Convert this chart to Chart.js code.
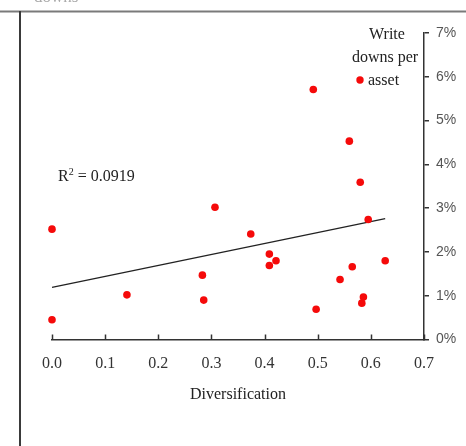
<!DOCTYPE html>
<html>
<head>
<meta charset="utf-8">
<script src="https://cdn.jsdelivr.net/npm/chart.js@4.4.1/dist/chart.umd.min.js"></script>
<style>
    html, body { margin: 0; padding: 0; background: #fff; }
    #wrap { position: relative; width: 466px; height: 446px; }
</style>
</head>
<body>
<div id="wrap"><canvas id="chartWriteDowns" width="466" height="446"></canvas></div>
<script>
// diversification (x) vs write downs per asset in % (y)
var diversification = [0.0, 0.0, 0.141, 0.283, 0.2855, 0.3067, 0.374, 0.409, 0.409, 0.4215,
    0.4917, 0.497, 0.542, 0.5595, 0.565, 0.580, 0.583, 0.586, 0.595, 0.627];
var writeDowns = [2.52, 0.45, 1.02, 1.47, 0.90, 3.02, 2.41, 1.95, 1.69, 1.80,
    5.71, 0.69, 1.37, 4.53, 1.66, 3.59, 0.83, 0.97, 2.74, 1.80];

// linear trend line end points
var trendX = [0.0, 0.627];
var trendY = [1.19, 2.76];

var xTicks = [0, 0.1, 0.2, 0.3, 0.4, 0.5, 0.6, 0.7];
var yTicks = [0, 1, 2, 3, 4, 5, 6, 7];

var seriesLabel = ['Write', 'downs per', 'asset'];
var rSquared = '0.0919';

var serif = '"Liberation Serif", "Times New Roman", serif';
var sans = '"Liberation Sans", Arial, sans-serif';
var axisColor = '#333';
var markerRed = '#f50a0a';

function toPoints(xs, ys) {
    return xs.map(function (x, i) {
        return { x: x, y: ys[i] };
    });
}

// frame lines, inner x ticks, legend and R2 text
var extrasPlugin = {
    id: 'extras',
    beforeDraw: function (chart) {
        var ctx = chart.ctx;
        ctx.save();
        ctx.fillStyle = '#aaa';
        ctx.font = '17px ' + serif;
        ctx.textBaseline = 'alphabetic';
        ctx.fillText('downs', 34, 2);

        ctx.strokeStyle = '#7a7a7a';
        ctx.lineWidth = 2;
        ctx.beginPath();
        ctx.moveTo(0, 11.5);
        ctx.lineTo(466, 11.5);
        ctx.stroke();

        ctx.strokeStyle = '#3a3a3a';
        ctx.lineWidth = 2;
        ctx.beginPath();
        ctx.moveTo(20, 11);
        ctx.lineTo(20, 446);
        ctx.stroke();
        ctx.restore();
    },
    afterDraw: function (chart) {
        var ctx = chart.ctx;
        var xs = chart.scales.x;
        var area = chart.chartArea;
        ctx.save();

        ctx.strokeStyle = axisColor;
        ctx.lineWidth = 1.5;
        xTicks.forEach(function (t) {
            var px = Math.round(xs.getPixelForValue(t)) + 0.5;
            ctx.beginPath();
            ctx.moveTo(px, area.bottom);
            ctx.lineTo(px, area.bottom - 5);
            ctx.stroke();
        });

        ctx.fillStyle = '#222';
        ctx.font = '16px ' + serif;
        ctx.textAlign = 'center';
        ctx.textBaseline = 'alphabetic';
        var cx = area.right - 38;
        ctx.fillText(seriesLabel[0], cx + 1, area.top + 6);
        ctx.fillText(seriesLabel[1], cx - 1, area.top + 29);
        ctx.textAlign = 'left';
        ctx.fillText(seriesLabel[2], cx - 18, area.top + 52);

        ctx.fillStyle = markerRed;
        ctx.beginPath();
        ctx.arc(cx - 26, area.top + 47, 3.7, 0, Math.PI * 2);
        ctx.fill();

        ctx.fillStyle = '#222';
        ctx.font = '16px ' + serif;
        ctx.fillText('R', area.left + 6, 181);
        var w = ctx.measureText('R').width;
        ctx.font = '10px ' + serif;
        ctx.fillText('2', area.left + 6 + w, 175);
        var w2 = ctx.measureText('2').width;
        ctx.font = '16px ' + serif;
        ctx.fillText(' = ' + rSquared, area.left + 6 + w + w2, 181);

        ctx.restore();
    }
};

var chartWriteDowns = new Chart(document.getElementById('chartWriteDowns'), {
    type: 'scatter',
    data: {
        datasets: [{
                label: seriesLabel.join(' '),
                data: toPoints(diversification, writeDowns),
                backgroundColor: markerRed,
                borderColor: markerRed,
                pointStyle: 'circle',
                pointRadius: 3.8,
                borderWidth: 0,
                clip: false
            }, {
                label: 'Linear trend',
                data: toPoints(trendX, trendY),
                showLine: true,
                borderColor: '#222',
                borderWidth: 1.3,
                pointRadius: 0,
                clip: false
            }]
    },
    options: {
        responsive: false,
        animation: false,
        events: [],
        layout: {
            padding: { left: 52, top: 33, right: 0, bottom: 42 }
        },
        plugins: {
            legend: { display: false },
            tooltip: { enabled: false }
        },
        scales: {
            x: {
                type: 'linear',
                position: 'bottom',
                min: 0,
                max: 0.7,
                afterBuildTicks: function (scale) {
                    scale.ticks = xTicks.map(function (v) { return { value: v }; });
                },
                afterFit: function (scale) {
                    scale.height = 64.5;
                },
                grid: { display: false },
                border: { display: true, color: axisColor, width: 1.5 },
                ticks: {
                    padding: 7,
                    color: '#333',
                    font: { family: serif, size: 16 },
                    maxRotation: 0,
                    callback: function (v) {
                        return Number(v).toFixed(1);
                    }
                },
                title: {
                    display: true,
                    text: 'Diversification',
                    color: '#222',
                    font: { family: serif, size: 16 },
                    padding: 0
                }
            },
            y: {
                type: 'linear',
                position: 'right',
                min: 0,
                max: 7,
                afterBuildTicks: function (scale) {
                    scale.ticks = yTicks.map(function (v) { return { value: v }; });
                },
                afterFit: function (scale) {
                    scale.width = 42;
                },
                grid: {
                    display: true,
                    drawOnChartArea: false,
                    drawTicks: true,
                    tickLength: 5,
                    color: axisColor,
                    lineWidth: 1.5
                },
                border: { display: true, color: axisColor, width: 1.5 },
                ticks: {
                    padding: 7,
                    color: '#555',
                    font: { family: sans, size: 14 },
                    callback: function (v) {
                        return v + '%';
                    }
                }
            }
        }
    },
    plugins: [extrasPlugin]
});
</script>
</body>
</html>
